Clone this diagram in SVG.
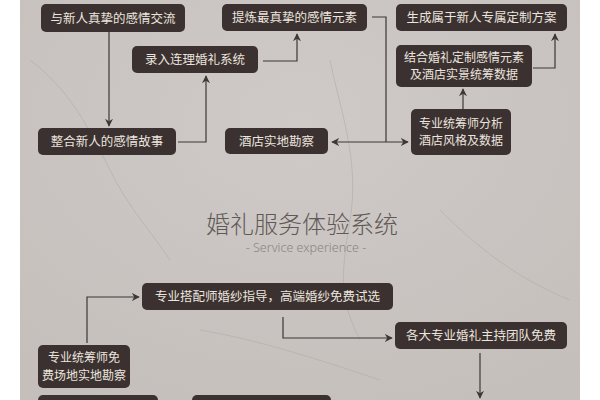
<svg xmlns="http://www.w3.org/2000/svg" width="600" height="400" viewBox="0 0 600 400">
<defs>
<radialGradient id="bg" cx="0.5" cy="0.3" r="0.8">
<stop offset="0" stop-color="#cfcac7"/>
<stop offset="1" stop-color="#c4bfbb"/>
</radialGradient>
<marker id="ah" viewBox="0 0 10 10" refX="9" refY="5" markerWidth="8" markerHeight="8" markerUnits="userSpaceOnUse" orient="auto-start-reverse">
<path d="M0,0 L10,5 L0,10 L3,5 z" fill="#3d3736"/>
</marker>
<style>
.box{fill:#3b3130}
.t{font-family:"Noto Sans CJK SC","Noto Sans",sans-serif;font-size:12.5px;fill:#ebe5df;text-anchor:middle}
.t2{font-family:"Noto Sans CJK SC","Noto Sans",sans-serif;font-size:12px;fill:#ebe5df;text-anchor:middle}
.c{fill:none;stroke:#3d3736;stroke-width:1.2}
.vein{fill:none;stroke:#b3aca8;stroke-width:1;opacity:0.6}
</style>
</defs>
<rect x="0" y="0" width="600" height="400" fill="#ffffff"/>
<rect x="20" y="0" width="560" height="400" fill="url(#bg)"/>
<path class="vein" d="M30,60 C70,90 90,130 110,170 S150,230 170,260"/>
<path class="vein" d="M330,60 C340,110 360,160 350,220 S340,300 360,340"/>
<path class="vein" d="M440,210 C480,250 520,280 570,300"/>
<path class="vein" d="M200,330 C260,340 320,360 380,380"/>

<g id="connectors">
<path class="c" d="M109,32 V126" marker-end="url(#ah)"/>
<path class="c" d="M178,142 H206 V76" marker-end="url(#ah)"/>
<path class="c" d="M263,61 H297 V34" marker-end="url(#ah)"/>
<path class="c" d="M372,17 H386 V142"/>
<path class="c" d="M332,142 H408" marker-start="url(#ah)" marker-end="url(#ah)"/>
<path class="c" d="M463,109 V89" marker-end="url(#ah)"/>
<path class="c" d="M533,68 H555 V34" marker-end="url(#ah)"/>
<path class="c" d="M87,343 V297 H139" marker-end="url(#ah)"/>
<path class="c" d="M283,317 V338 H392" marker-end="url(#ah)"/>
<path class="c" d="M480,353 V398" marker-end="url(#ah)"/>
</g>

<g id="n1"><rect class="box" x="41" y="4" width="144" height="28" rx="5"/><text class="t" x="113" y="22.5">与新人真挚的感情交流</text></g>
<g id="n2"><rect class="box" x="222" y="4" width="145" height="27" rx="5"/><text class="t" x="294.5" y="22">提炼最真挚的感情元素</text></g>
<g id="n3"><rect class="box" x="396" y="4" width="171" height="27" rx="5"/><text class="t" x="481.5" y="22">生成属于新人专属定制方案</text></g>
<g id="n4"><rect class="box" x="132" y="46" width="126" height="27" rx="5"/><text class="t" x="195" y="64">录入连理婚礼系统</text></g>
<g id="n5"><rect class="box" x="396" y="45" width="136" height="42" rx="5"/><text class="t2" x="464" y="61.5">结合婚礼定制感情元素</text><text class="t2" x="464" y="78.5">及酒店实景统筹数据</text></g>
<g id="n6"><rect class="box" x="38" y="128" width="138" height="27" rx="5"/><text class="t" x="107" y="146">整合新人的感情故事</text></g>
<g id="n7"><rect class="box" x="225" y="128" width="103" height="26" rx="5"/><text class="t" x="276.5" y="145.5">酒店实地勘察</text></g>
<g id="n8"><rect class="box" x="411" y="109" width="100" height="46" rx="5"/><text class="t2" x="461" y="127.5">专业统筹师分析</text><text class="t2" x="461" y="145">酒店风格及数据</text></g>

<g id="title">
<text x="302" y="233" font-family="'Noto Sans CJK SC','Noto Sans',sans-serif" font-size="24" font-weight="300" fill="#5f5957" text-anchor="middle">婚礼服务体验系统</text>
<text x="306" y="252" font-family="'Noto Sans','DejaVu Sans',sans-serif" font-size="12.5" font-weight="300" fill="#8a8482" text-anchor="middle">- Service experience -</text>
</g>

<g id="n9"><rect class="box" x="142" y="283" width="251" height="27" rx="5"/><text class="t" x="267.5" y="301">专业搭配师婚纱指导，高端婚纱免费试选</text></g>
<g id="n10"><rect class="box" x="395" y="322" width="172" height="27" rx="5"/><text class="t" x="481" y="340">各大专业婚礼主持团队免费</text></g>
<g id="n11"><rect class="box" x="38" y="345" width="92" height="43" rx="5"/><text class="t2" x="84" y="362">专业统筹师免</text><text class="t2" x="84" y="379.5">费场地实地勘察</text></g>
<g id="n12"><rect class="box" x="38" y="395" width="120" height="20" rx="5"/></g>
<g id="n13"><rect class="box" x="192" y="395" width="139" height="20" rx="5"/></g>
</svg>
